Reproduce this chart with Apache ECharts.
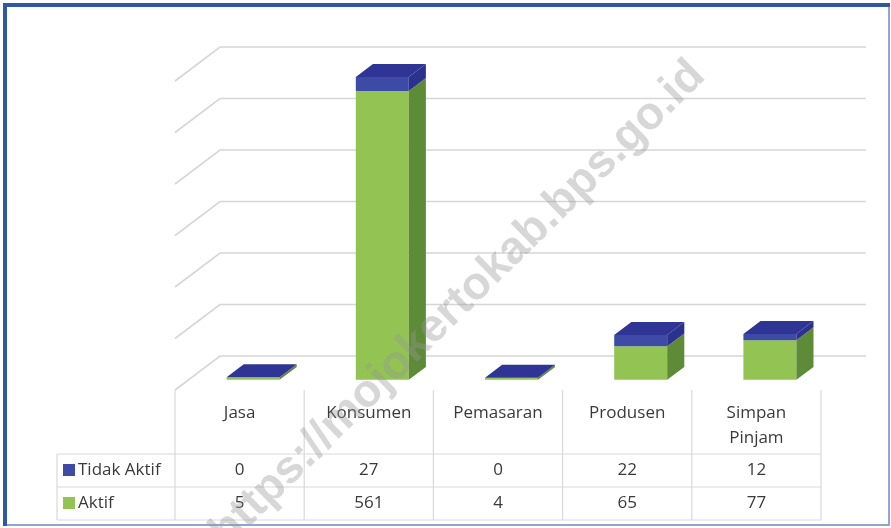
<!DOCTYPE html>
<html>
<head>
<meta charset="utf-8">
<script src="https://cdn.jsdelivr.net/npm/echarts@6/dist/echarts.min.js"></script>
<style>
html,body{margin:0;padding:0;background:#fff;}
#chart{width:891px;height:528px;}
</style>
</head>
<body>
<div id="chart"></div>
<script>
// ---- data ----
const categories = ['Jasa', 'Konsumen', 'Pemasaran', 'Produsen', 'Simpan\nPinjam'];
const seriesNames = ['Tidak Aktif', 'Aktif'];
const tidakAktif = [0, 27, 0, 22, 12];
const aktif = [5, 561, 4, 65, 77];
const valueTicks = [0, 100, 200, 300, 400, 500, 600];
const watermarkText = 'https://mojokertokab.bps.go.id';

// ---- style ----
const FONT = '17px "Open Sans", "Noto Sans", sans-serif';
const TXT = '#3a3a3a';
const LINE = '#d9d9d9';
const GREEN = '#92C353', GREEN_SIDE = '#5E8B38';
const BLUE = '#3D4BA7', BLUE_SIDE = '#2B318D', BLUE_TOP = '#2E3595';
const DX = 45, DY = 34;       // full depth offset of the 3D walls
const D0 = 0.3, D1 = 0.68;    // bar depth range
const HEADER_H = 64, ROW_H = 33;

const chart = echarts.init(document.getElementById('chart'), null, {renderer: 'canvas'});

function renderGrid(params, api) {
  const cs = params.coordSys;
  const y = api.coord([0, api.value(1)])[1];
  return {
    type: 'polyline',
    shape: {points: [[cs.x, y], [cs.x + DX, y - DY], [cs.x + cs.width + DX, y - DY]]},
    style: {stroke: '#d6d6d6', lineWidth: 1.6, fill: null}
  };
}

function renderBars(params, api) {
  const i = api.value(0);
  const a = api.value(1), t = api.value(2);
  const band = api.size([1, 0])[0];
  const w = band * 0.41;
  const cx = api.coord([i, 0])[0];
  const fx = cx + DX * D0 - w / 2;
  const off = DY * D0;
  const y0 = api.coord([i, 0])[1] - off;
  const ya = api.coord([i, a])[1] - off;
  const yt = api.coord([i, a + t])[1] - off;
  const ddx = DX * (D1 - D0), ddy = DY * (D1 - D0);
  const side = (yb, ytop) => [[fx + w, ytop], [fx + w + ddx, ytop - ddy], [fx + w + ddx, yb - ddy], [fx + w, yb]];
  const children = [];
  children.push({type: 'rect', shape: {x: fx, y: ya, width: w, height: y0 - ya}, style: {fill: GREEN}});
  children.push({type: 'polygon', shape: {points: side(y0, ya)}, style: {fill: GREEN_SIDE}});
  if (t > 0) {
    children.push({type: 'rect', shape: {x: fx, y: yt, width: w, height: ya - yt}, style: {fill: BLUE}});
    children.push({type: 'polygon', shape: {points: side(ya, yt)}, style: {fill: BLUE_SIDE}});
  }
  children.push({type: 'polygon', shape: {points: [[fx, yt], [fx + w, yt], [fx + w + ddx, yt - ddy], [fx + ddx, yt - ddy]]}, style: {fill: BLUE_TOP}});
  return {type: 'group', children};
}

function renderTable(params, api) {
  const cs = params.coordSys;
  const i = api.value(0);
  const band = api.size([1, 0])[0];
  const cx = api.coord([i, 0])[0];
  const yb = cs.y + cs.height;
  const left = cx - band / 2, right = cx + band / 2;
  const r1 = yb + HEADER_H, r2 = r1 + ROW_H, r3 = r2 + ROW_H;
  const ln = (x1, y1, x2, y2) => ({type: 'line', shape: {x1, y1, x2, y2}, style: {stroke: LINE, lineWidth: 1.2}});
  const tx = (text, y, va, lh) => ({type: 'text', style: {text, x: cx, y, align: 'center', verticalAlign: va, font: FONT, fill: TXT, lineHeight: lh || 24}});
  const children = [
    ln(left, yb, left, r3),
    ln(left, r1, right, r1), ln(left, r2, right, r2), ln(left, r3, right, r3),
    tx(categories[i], yb + 11, 'top', 25),
    tx(String(tidakAktif[i]), r1 + ROW_H / 2, 'middle'),
    tx(String(aktif[i]), r2 + ROW_H / 2, 'middle')
  ];
  if (i === categories.length - 1) children.push(ln(right, yb, right, r3));
  return {type: 'group', children};
}

const gridTop = 81, gridBottom = 138;
const yb = 528 - gridBottom;

chart.setOption({
  animation: false,
  grid: {left: 175, right: 70, top: gridTop, bottom: gridBottom},
  xAxis: {type: 'category', data: categories, show: false},
  yAxis: {type: 'value', min: 0, max: 600, interval: 100, show: false},
  series: [
    {type: 'custom', name: 'grid', renderItem: renderGrid, z: 1, silent: true,
     data: valueTicks.map(v => [0, v]), encode: {x: 0, y: 1}},
    {type: 'custom', name: 'bars', renderItem: renderBars, z: 2,
     data: categories.map((c, i) => [i, aktif[i], tidakAktif[i]]), encode: {x: 0, y: [1, 2]}},
    {type: 'custom', name: 'table', renderItem: renderTable, z: 3, silent: true,
     data: categories.map((c, i) => [i]), encode: {x: 0}}
  ],
  graphic: [
    // row-label column
    {type: 'line', shape: {x1: 57, y1: yb + HEADER_H, x2: 175, y2: yb + HEADER_H}, style: {stroke: LINE, lineWidth: 1.2}},
    {type: 'line', shape: {x1: 57, y1: yb + HEADER_H + ROW_H, x2: 175, y2: yb + HEADER_H + ROW_H}, style: {stroke: LINE, lineWidth: 1.2}},
    {type: 'line', shape: {x1: 57, y1: yb + HEADER_H + 2 * ROW_H, x2: 175, y2: yb + HEADER_H + 2 * ROW_H}, style: {stroke: LINE, lineWidth: 1.2}},
    {type: 'line', shape: {x1: 57, y1: yb + HEADER_H, x2: 57, y2: yb + HEADER_H + 2 * ROW_H}, style: {stroke: LINE, lineWidth: 1.2}},
    {type: 'rect', shape: {x: 63, y: yb + HEADER_H + 10, width: 12, height: 12}, style: {fill: BLUE}},
    {type: 'text', style: {text: seriesNames[0], x: 78, y: yb + HEADER_H + ROW_H / 2, verticalAlign: 'middle', font: FONT, fill: TXT}},
    {type: 'rect', shape: {x: 63, y: yb + HEADER_H + ROW_H + 10, width: 12, height: 12}, style: {fill: GREEN}},
    {type: 'text', style: {text: seriesNames[1], x: 78, y: yb + HEADER_H + ROW_H * 1.5, verticalAlign: 'middle', font: FONT, fill: TXT}},
    // border
    {type: 'line', shape: {x1: 889, y1: 4, x2: 889, y2: 526}, style: {stroke: '#8EA6D6', lineWidth: 2}},
    {type: 'line', shape: {x1: 4, y1: 525, x2: 890, y2: 525}, style: {stroke: '#8EA6D6', lineWidth: 2}},
    {type: 'rect', shape: {x: 3, y: 3, width: 887, height: 4}, style: {fill: '#2F5AA1'}},
    {type: 'rect', shape: {x: 3, y: 3, width: 4, height: 523}, style: {fill: '#2F5AA1'}},
    // watermark
    {type: 'text', x: 458, y: 304, rotation: Math.PI * 0.247, z: 100, silent: true,
     style: {text: watermarkText, align: 'center', verticalAlign: 'middle',
             font: 'bold 46px "Liberation Sans", Arial, sans-serif', fill: 'rgba(150,150,150,0.38)'}}
  ]
});
</script>
</body>
</html>
